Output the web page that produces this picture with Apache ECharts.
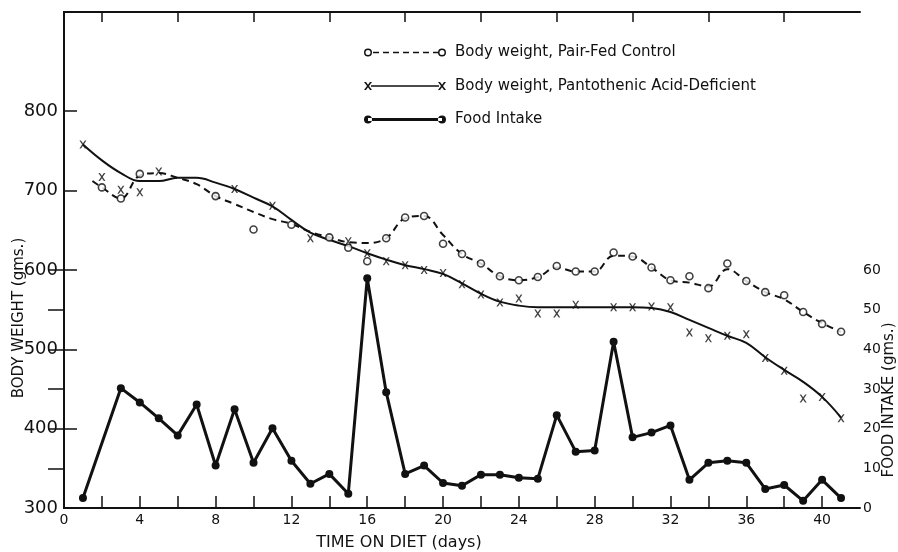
<!DOCTYPE html>
<html>
<head>
<meta charset="utf-8">
<script src="https://cdn.jsdelivr.net/npm/echarts@6/dist/echarts.min.js"></script>
<style>
html,body{margin:0;padding:0;background:#fff;}
#chart{width:898px;height:552px;}
</style>
</head>
<body>
<div id="chart"></div>
<script>
// ---- data ----
const seriesNames = ['Body weight, Pair-Fed Control', 'Body weight, Pantothenic Acid-Deficient', 'Food Intake'];

// Pair-fed control: measured points (circles)
const controlDays   = [2,3,4,8,10,12,14,15,16,17,18,19,20,21,22,23,24,25,26,27,28,29,30,31,32,33,34,35,36,37,38,39,40,41];
const controlWeight = [704,690,721,693,651,657,641,628,611,640,666,668,633,620,608,592,587,591,605,598,598,622,617,603,587,592,577,608,586,572,568,547,532,522];
// Pair-fed control: hand-drawn dashed curve
const controlCurveDays   = [1.5,2,3,4,5,6,7,8,9,10,11,12,13,14,15,16,17,18,19,20,21,22,23,24,25,26,27,28,29,30,31,32,33,34,35,36,37,38,39,40,41];
const controlCurveWeight = [712,704,690,719,722,716,708,693,683,673,664,658,648,641,635,634,640,665,668,644,620,608,592,587,591,603,598,598,618,617,603,587,584,579,601,586,572,563,547,533,522];

// Pantothenic acid-deficient: measured points (x)
const defDays   = [1,2,3,4,5,9,11,13,15,16,17,18,19,20,21,22,23,24,25,26,27,29,30,31,32,33,34,35,36,37,38,39,40,41];
const defWeight = [758,717,701,698,724,702,681,640,636,621,611,606,600,596,582,569,559,564,545,545,556,553,553,554,553,521,514,517,519,489,473,438,440,413];
// Deficient: smooth solid curve
const defCurveDays   = [1,2,3,4,5,6,7,8,9,10,11,12,13,14,15,16,17,18,19,20,21,22,23,24,25,26,27,28,29,30,31,32,33,34,35,36,37,38,39,40,41];
const defCurveWeight = [758,738,722,712,712,716,716,710,702,691,680,663,647,638,630,621,613,606,601,595,583,570,560,555,553,553,553,553,553,553,552,547,537,527,517,508,490,474,459,440,414];

// Food intake (gms.)
const foodDays   = [1,3,4,5,6,7,8,9,10,11,12,13,14,15,16,17,18,19,20,21,22,23,24,25,26,27,28,29,30,31,32,33,34,35,36,37,38,39,40,41];
const foodIntake = [2.5,30.2,26.6,22.6,18.3,26.1,10.7,24.9,11.4,20.1,11.9,6.1,8.6,3.6,57.9,29.2,8.6,10.7,6.3,5.6,8.4,8.4,7.6,7.4,23.4,14.2,14.5,41.9,17.8,19.0,20.8,7.1,11.4,11.9,11.4,4.8,5.8,1.8,7.1,2.5];

// tick labels
const xLabelValues = [0,4,8,12,16,20,24,28,32,36,40];
const xTickValues = [2,4,6,8,10,12,14,16,18,20,22,24,26,28,30,32,34,36,38,40];
const xTopTickValues = [2,6,10,14,18,22,26,30,34,38];
const leftLabelValues = [300,400,500,600,700,800];
const leftTickValues = [400,500,600,700,800];
const rightLabelValues = [0,10,20,30,40,50,60];
const rightTickValues = [10,20,30,40,50,60];

const zip = (a, b) => a.map((v, i) => [v, b[i]]);

const FONT = "'DejaVu Sans', sans-serif";
const INK = '#111';
const xSymbol = 'path://M0,0 L2.2,0 L5,3.5 L7.8,0 L10,0 L6.2,5 L10,10 L7.8,10 L5,6.5 L2.2,10 L0,10 L3.8,5 Z';

// legend icons (marker - line - marker), 82 x 8 boxes
const W = 82;
const ring = (cx) => `M${cx-4},4 A4,4 0 1,0 ${cx+4},4 A4,4 0 1,0 ${cx-4},4 Z M${cx-2.5},4 A2.5,2.5 0 1,1 ${cx+2.5},4 A2.5,2.5 0 1,1 ${cx-2.5},4 Z`;
const dot = (cx) => `M${cx-4},4 A4,4 0 1,0 ${cx+4},4 A4,4 0 1,0 ${cx-4},4 Z`;
const cross = (ox) => `M${ox},0 L${ox+2},0 L${ox+4},2.8 L${ox+6},0 L${ox+8},0 L${ox+5},4 L${ox+8},8 L${ox+6},8 L${ox+4},5.2 L${ox+2},8 L${ox},8 L${ox+3},4 Z`;
const rect = (x0, x1, h) => `M${x0},${4-h/2} L${x1},${4-h/2} L${x1},${4+h/2} L${x0},${4+h/2} Z`;
const dashes = [[9,15],[19,25],[29,35],[39,45],[49,55],[59,65],[69,74]].map(d => rect(d[0], d[1], 1.6)).join(' ');
const iconControl = 'path://' + ring(4) + ' ' + dashes + ' ' + ring(W - 4);
const iconDef = 'path://' + cross(0) + ' ' + rect(7, W - 7, 1.6) + ' ' + cross(W - 8);
const iconFood = 'path://' + dot(4) + ' ' + rect(4, W - 4, 2.8) + ' ' + dot(W - 4);

const chart = echarts.init(document.getElementById('chart'), null, {renderer: 'canvas'});

const axisLine = {show: true, lineStyle: {color: INK, width: 2}};
const labelStyle = (size) => ({color: INK, fontSize: size, fontFamily: FONT});

chart.setOption({
  animation: false,
  backgroundColor: '#fff',
  grid: {left: 64, right: 38, top: 12, bottom: 44, containLabel: false},
  legend: {
    orient: 'vertical',
    left: 359,
    top: 40,
    itemWidth: W,
    itemHeight: 8,
    itemGap: 18.5,
    symbolKeepAspect: false,
    itemStyle: {color: INK, borderWidth: 0},
    textStyle: {color: INK, fontSize: 15, fontFamily: FONT, padding: [0, 0, 0, 4]},
    data: [
      {name: seriesNames[0], icon: iconControl},
      {name: seriesNames[1], icon: iconDef},
      {name: seriesNames[2], icon: iconFood}
    ],
    selectedMode: false
  },
  xAxis: [
    {
      type: 'value', position: 'bottom', min: 0, max: 42, interval: 2,
      axisLine: axisLine,
      axisTick: {show: true, inside: true, length: 12, customValues: xTickValues, lineStyle: {color: INK, width: 1.5}},
      axisLabel: Object.assign({margin: 5, customValues: xLabelValues}, labelStyle(14)),
      splitLine: {show: false}
    },
    {
      type: 'value', position: 'top', min: 0, max: 42, interval: 2,
      axisLine: axisLine,
      axisTick: {show: true, inside: true, length: 10, customValues: xTopTickValues, lineStyle: {color: INK, width: 1.5}},
      axisLabel: {show: false},
      splitLine: {show: false}
    }
  ],
  yAxis: [
    {
      type: 'value', position: 'left', min: 300, max: 925, interval: 100,
      axisLine: axisLine,
      axisTick: {show: true, inside: true, length: 13, customValues: leftTickValues, lineStyle: {color: INK, width: 1.5}},
      axisLabel: Object.assign({margin: 6, customValues: leftLabelValues}, labelStyle(18)),
      splitLine: {show: false}
    },
    {
      type: 'value', position: 'right', min: 0, max: 125, interval: 10,
      axisLine: axisLine,
      axisTick: {show: true, inside: true, length: 16, customValues: rightTickValues, lineStyle: {color: INK, width: 1.5}},
      axisLabel: Object.assign({margin: 3, customValues: rightLabelValues}, labelStyle(14)),
      splitLine: {show: false}
    }
  ],
  graphic: [
    {type: 'text', x: 19, y: 318, rotation: Math.PI / 2,
     style: {text: 'BODY WEIGHT (gms.)', fill: INK, fontSize: 15, fontFamily: FONT, align: 'center', verticalAlign: 'middle'}},
    {type: 'text', x: 889, y: 400, rotation: Math.PI / 2,
     style: {text: 'FOOD INTAKE (gms.)', fill: INK, fontSize: 15, fontFamily: FONT, align: 'center', verticalAlign: 'middle'}},
    {type: 'text', x: 399, y: 543,
     style: {text: 'TIME ON DIET (days)', fill: INK, fontSize: 16, fontFamily: FONT, align: 'center', verticalAlign: 'middle'}}
  ],
  series: [
    {
      name: seriesNames[0], type: 'line', xAxisIndex: 0, yAxisIndex: 0,
      data: zip(controlCurveDays, controlCurveWeight),
      smooth: 0.4, showSymbol: false, symbol: 'circle', symbolSize: 7,
      itemStyle: {color: INK},
      lineStyle: {color: INK, width: 2, type: [7, 5]},
      silent: true, z: 2
    },
    {
      name: seriesNames[0], type: 'scatter', xAxisIndex: 0, yAxisIndex: 0,
      data: zip(controlDays, controlWeight),
      symbol: 'circle', symbolSize: 7,
      itemStyle: {color: '#fff', borderColor: INK, borderWidth: 1.6},
      silent: true, z: 3
    },
    {
      name: seriesNames[1], type: 'line', xAxisIndex: 0, yAxisIndex: 0,
      data: zip(defCurveDays, defCurveWeight),
      smooth: 0.4, showSymbol: false, symbol: 'circle', symbolSize: 7,
      itemStyle: {color: INK},
      lineStyle: {color: INK, width: 2},
      silent: true, z: 2
    },
    {
      name: seriesNames[1], type: 'scatter', xAxisIndex: 0, yAxisIndex: 0,
      data: zip(defDays, defWeight),
      symbol: xSymbol, symbolSize: [7, 8],
      itemStyle: {color: INK},
      silent: true, z: 3
    },
    {
      name: seriesNames[2], type: 'line', xAxisIndex: 0, yAxisIndex: 1,
      data: zip(foodDays, foodIntake),
      smooth: false, showSymbol: true, symbol: 'circle', symbolSize: 8,
      itemStyle: {color: INK},
      lineStyle: {color: INK, width: 3},
      silent: true, z: 4
    }
  ]
});
</script>
</body>
</html>
